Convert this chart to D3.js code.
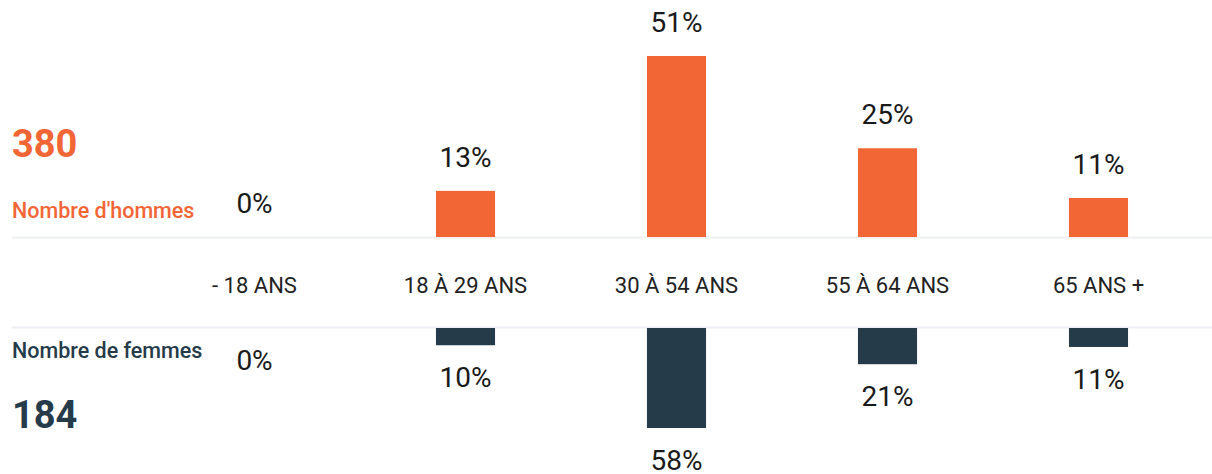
<!DOCTYPE html>
<html><head><meta charset="utf-8">
<script src="https://cdn.jsdelivr.net/npm/d3@7"></script>
<style>html,body{margin:0;padding:0;background:#fff;}svg{display:block;font-family:Roboto,sans-serif;}</style>
</head><body><svg id="c" width="1212" height="474"></svg>
<script>
const categories = ["- 18 ANS","18 À 29 ANS","30 À 54 ANS","55 À 64 ANS","65 ANS +"];
const hommes = [0,13,51,25,11];
const femmes = [0,10,58,21,11];
const totalHommes = 380, totalFemmes = 184;
const labelHommes = "Nombre d'hommes", labelFemmes = "Nombre de femmes";

const orange = "#f26535", dark = "#263b4a";
const svg = d3.select("#c");
const x = d3.scaleBand().domain(categories).range([149,1204]).paddingInner(0.72).paddingOuter(0.36);
const topBase = 237, botBase = 328;
const yTop = d3.scaleLinear().domain([0,51]).range([topBase,56]);
const yBot = d3.scaleLinear().domain([0,58]).range([botBase,428]);

svg.append("line").attr("x1",12).attr("x2",1212).attr("y1",topBase+0.5).attr("y2",topBase+0.5).attr("stroke","#eeeff2").attr("stroke-width",2);
svg.append("line").attr("x1",12).attr("x2",1212).attr("y1",botBase-0.5).attr("y2",botBase-0.5).attr("stroke","#eeeff2").attr("stroke-width",2);

svg.selectAll(".bh").data(hommes).join("rect")
  .attr("x",(d,i)=>x(categories[i])).attr("width",x.bandwidth())
  .attr("y",d=>yTop(d)).attr("height",d=>topBase-yTop(d)).attr("fill",orange);
svg.selectAll(".bf").data(femmes).join("rect")
  .attr("x",(d,i)=>x(categories[i])).attr("width",x.bandwidth())
  .attr("y",botBase).attr("height",d=>yBot(d)-botBase).attr("fill",dark);

svg.selectAll(".lh").data(hommes).join("text")
  .attr("x",(d,i)=>x(categories[i])+x.bandwidth()/2).attr("y",d=>yTop(d)-24)
  .attr("text-anchor","middle").attr("font-size",28).attr("fill","#1a1a1a").text(d=>d+"%");
svg.selectAll(".lf").data(femmes).join("text")
  .attr("x",(d,i)=>x(categories[i])+x.bandwidth()/2).attr("y",d=>yBot(d)+42)
  .attr("text-anchor","middle").attr("font-size",28).attr("fill","#1a1a1a").text(d=>d+"%");

svg.selectAll(".cat").data(categories).join("text")
  .attr("x",d=>x(d)+x.bandwidth()/2).attr("y",293)
  .attr("text-anchor","middle").attr("font-size",22).attr("fill","#222").text(d=>d);

svg.append("text").attr("x",12).attr("y",157).attr("font-size",38).attr("font-weight",700).attr("fill",orange).text(totalHommes);
svg.append("text").attr("x",12).attr("y",218).attr("font-size",21.5).attr("font-weight",500).attr("fill",orange).text(labelHommes);
svg.append("text").attr("x",12).attr("y",358).attr("font-size",21.5).attr("font-weight",500).attr("fill",dark).text(labelFemmes);
svg.append("text").attr("x",12).attr("y",428).attr("font-size",38).attr("font-weight",700).attr("fill",dark).text(totalFemmes);
</script></body></html>
